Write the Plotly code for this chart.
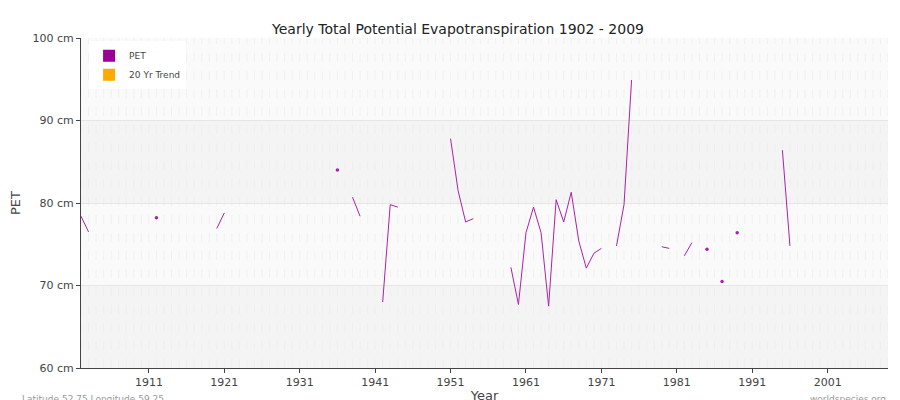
import plotly.graph_objects as go

years = list(range(1902, 2010))
pet_map = {1902:78.4,1903:76.5,1912:78.2,1920:76.9,1921:78.8,1936:84.0,1938:80.7,1939:78.4,
 1942:68.0,1943:79.8,1944:79.5,1951:87.8,1952:81.5,1953:77.7,1954:78.1,
 1959:72.2,1960:67.7,1961:76.4,1962:79.5,1963:76.4,1964:67.5,1965:80.4,1966:77.7,1967:81.3,
 1968:75.4,1969:72.1,1970:73.9,1971:74.5,1973:74.8,1974:79.8,1975:94.9,1979:74.7,1980:74.5,
 1982:73.6,1983:75.2,1985:74.4,1987:70.5,1989:76.4,1995:86.4,1996:74.8}
pet = [pet_map.get(y) for y in years]
single_x = [y for y in years if y in pet_map and (y-1 not in pet_map) and (y+1 not in pet_map)]
single_y = [pet_map[y] for y in single_x]
tick_vals = [1911,1921,1931,1941,1951,1961,1971,1981,1991,2001]
y_ticks = [60,70,80,90,100]

fig = go.Figure()
fig.add_trace(go.Scatter(x=years, y=pet, mode="lines", line=dict(color="#aa22aa", width=1), name="PET", showlegend=False, connectgaps=False))
fig.add_trace(go.Scatter(x=single_x, y=single_y, mode="markers", marker=dict(color="#aa22aa", size=3.5), showlegend=False))
fig.add_trace(go.Scatter(x=[None], y=[None], mode="markers", marker=dict(color="#990099", size=5, symbol="square"), name="PET"))
fig.add_trace(go.Scatter(x=[None], y=[None], mode="markers", marker=dict(color="#ffaa00", size=5, symbol="square"), name="20 Yr Trend"))

for lo, col in [(60,"#f4f4f4"),(70,"#fafafa"),(80,"#f4f4f4"),(90,"#fafafa")]:
    fig.add_shape(type="rect", xref="paper", x0=0, x1=1, y0=lo, y1=lo+10, fillcolor=col, line_width=0, layer="below")
for yv in years:
    fig.add_shape(type="line", x0=yv, x1=yv, yref="paper", y0=0, y1=1, line=dict(color="#ebebeb", width=0.6, dash="dash"), layer="below")

fig.update_layout(
    width=900, height=400, margin=dict(l=73, r=20, t=30, b=40),
    paper_bgcolor="white", plot_bgcolor="white",
    font=dict(family="DejaVu Sans", size=11, color="#444"),
    title=dict(text="Yearly Total Potential Evapotranspiration 1902 - 2009", x=0.5, y=0.96, font=dict(size=14, color="#222")),
    legend=dict(x=0.01, y=0.99, bgcolor="white", font=dict(size=9), itemsizing="constant", tracegroupgap=0,
                itemwidth=30, entrywidthmode="pixels"),
    xaxis=dict(range=[1902,2009], tickvals=tick_vals, showgrid=False, zeroline=False, title=dict(text="Year", standoff=2),
               showline=True, linecolor="#444", ticks="outside", ticklen=4, tickcolor="#444", automargin=False),
    yaxis=dict(range=[60,100], tickvals=y_ticks, ticktext=[f"{v} cm" for v in y_ticks], showgrid=True, gridcolor="#e6e6e6",
               zeroline=False, title=dict(text="PET", standoff=8), showline=True, linecolor="#444", ticks="outside",
               ticklen=4, tickcolor="#444", automargin=False),
)
fig.add_annotation(text="Latitude 52.75 Longitude 59.25", xref="paper", yref="paper", x=-0.075, y=-0.095, yanchor="middle",
                   showarrow=False, font=dict(size=9, color="#999"), xanchor="left")
fig.add_annotation(text="worldspecies.org", xref="paper", yref="paper", x=1.0, y=-0.095, yanchor="middle",
                   showarrow=False, font=dict(size=9, color="#999"), xanchor="right")
fig.write_html("out.html")
